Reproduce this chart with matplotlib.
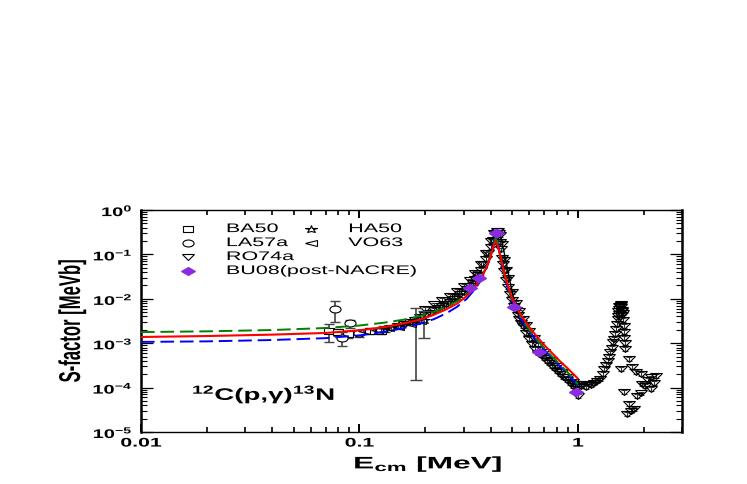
import numpy as np
import matplotlib
matplotlib.use('Agg')
import matplotlib.pyplot as plt
from matplotlib.markers import MarkerStyle
from matplotlib.transforms import Affine2D
from matplotlib.patheffects import AbstractPathEffect
from matplotlib.ticker import NullFormatter

plt.rcParams['font.family'] = ['Liberation Sans', 'DejaVu Sans']
plt.rcParams['mathtext.fontset'] = 'custom'
plt.rcParams['mathtext.rm'] = 'Liberation Sans'
plt.rcParams['mathtext.bf'] = 'Liberation Sans:bold'
plt.rcParams['mathtext.it'] = 'Liberation Sans:italic'

# ---- model curves (E_cm [MeV], S [MeV b]) ----
red_e = [0.01, 0.02, 0.04, 0.07, 0.1, 0.13, 0.16, 0.19, 0.22, 0.25, 0.28, 0.31, 0.34, 0.36,
         0.38, 0.39, 0.40, 0.41, 0.42, 0.43, 0.44, 0.45, 0.46, 0.48, 0.50, 0.53, 0.56, 0.60,
         0.65, 0.70, 0.76, 0.83, 0.90, 1.0]
red_s = [1.38e-3, 1.45e-3, 1.56e-3, 1.7e-3, 1.95e-3, 2.3e-3, 2.8e-3, 3.4e-3, 4.4e-3, 5.8e-3,
         7.8e-3, 1.15e-2, 1.9e-2, 2.8e-2, 4.8e-2, 6.6e-2, 9.5e-2, 0.145, 0.195, 0.16, 0.1,
         6.2e-2, 4.0e-2, 1.9e-2, 1.05e-2, 5.8e-3, 3.7e-3, 2.3e-3, 1.4e-3, 9.2e-4, 6.1e-4,
         3.9e-4, 2.7e-4, 1.6e-4]

blue_e = red_e
blue_s = [1.07e-3, 1.1e-3, 1.18e-3, 1.3e-3, 1.5e-3, 1.8e-3, 2.2e-3, 2.75e-3, 3.5e-3, 4.7e-3,
          6.6e-3, 1.0e-2, 1.7e-2, 2.6e-2, 4.6e-2, 6.6e-2, 0.1, 0.16, 0.25, 0.2, 0.1, 5.5e-2,
          3.4e-2, 1.6e-2, 8.8e-3, 4.8e-3, 3.0e-3, 1.85e-3, 1.1e-3, 7.2e-4, 4.7e-4, 3.0e-4,
          2.0e-4, 1.15e-4]

green_e = red_e
green_s = [1.78e-3, 1.85e-3, 1.98e-3, 2.2e-3, 2.5e-3, 2.9e-3, 3.4e-3, 4.1e-3, 5.1e-3, 6.6e-3,
           8.8e-3, 1.25e-2, 2.0e-2, 2.9e-2, 5.0e-2, 7.0e-2, 0.105, 0.16, 0.23, 0.19, 0.1,
           5.7e-2, 3.6e-2, 1.7e-2, 9.5e-3, 5.2e-3, 3.3e-3, 2.0e-3, 1.2e-3, 7.9e-4, 5.1e-4,
           3.3e-4, 2.2e-4, 1.2e-4]

black_e = [0.40, 0.41, 0.42, 0.43, 0.44, 0.447, 0.455, 0.467, 0.48, 0.49, 0.505, 0.517, 0.535]
black_s = [0.19, 0.25, 0.31, 0.33, 0.29, 0.22, 0.14, 7.9e-2, 3.9e-2, 2.4e-2, 1.2e-2, 7.0e-3, 4.2e-3]

# ---- data sets ----
ba50_e = [0.0722, 0.080, 0.089, 0.112, 0.125]
ba50_s = [1.88e-3, 1.78e-3, 1.6e-3, 1.9e-3, 1.9e-3]
ba50_err = [0.83e-3, 0.35e-3, 0.3e-3, 0.25e-3, 0.25e-3]

la57_e = [0.0776, 0.0834, 0.091, 0.10]
la57_s = [5.9e-3, 1.3e-3, 2.8e-3, 1.7e-3]
la57_err = [2.9e-3, 0.45e-3, 0.6e-3, 0.3e-3]

ha50_e = [0.13, 0.15, 0.181, 0.197]
ha50_s = [2.1e-3, 2.4e-3, 3.2e-3, 3.3e-3]
ha50_err = [0.3e-3, 0.3e-3, 3.05e-3, 2.0e-3]

vo63_e = [0.105, 0.12, 0.135, 0.15, 0.17, 0.19]
vo63_s = [1.9e-3, 2.0e-3, 2.15e-3, 2.35e-3, 2.7e-3, 3.1e-3]

ro74_e = [
    # rising side of the 0.42 MeV resonance
    0.12, 0.13, 0.14, 0.15, 0.16, 0.17, 0.18, 0.19, 0.20, 0.21, 0.22, 0.23, 0.24, 0.25,
    0.26, 0.27, 0.28, 0.29, 0.30, 0.31, 0.32, 0.33, 0.34, 0.35, 0.36, 0.37, 0.38, 0.39,
    0.40, 0.41, 0.42, 0.425, 0.43,
    0.20, 0.22, 0.24, 0.26, 0.28, 0.30, 0.32, 0.34, 0.36, 0.38, 0.40, 0.415,
    # falling side
    0.435, 0.44, 0.445, 0.45, 0.455, 0.46, 0.47, 0.48, 0.49, 0.50, 0.51, 0.52, 0.53, 0.54,
    0.55, 0.56, 0.58, 0.60, 0.62, 0.64, 0.66, 0.68, 0.70, 0.72, 0.74, 0.76, 0.78, 0.80,
    0.83, 0.86, 0.89, 0.92, 0.95, 0.98, 1.0,
    0.44, 0.45, 0.46, 0.47, 0.48, 0.50, 0.52, 0.54, 0.56, 0.58, 0.60, 0.63, 0.66, 0.70,
    0.75, 0.80, 0.85, 0.90, 0.95, 0.99,
    # plateau and the 1.56 MeV resonance
    1.03, 1.06, 1.09, 1.12, 1.15, 1.19, 1.23, 1.27, 1.30, 1.32, 1.35, 1.37, 1.39, 1.41,
    1.43, 1.45, 1.46, 1.48, 1.50, 1.51, 1.53, 1.54, 1.55, 1.56, 1.57, 1.58, 1.59, 1.60,
    1.61, 1.62, 1.62, 1.63, 1.64, 1.65, 1.72, 1.77, 1.94, 2.04, 2.16, 2.28, 2.16, 1.94,
    1.63, 1.87, 1.72, 1.75, 1.68, 1.81, 1.57, 2.23, 1.97, 2.10, 1.85,
    1.52, 1.55, 1.58, 1.60, 1.53, 1.61]
ro74_s = [
    1.9e-3, 2.0e-3, 2.2e-3, 2.4e-3, 2.7e-3, 3.0e-3, 3.4e-3, 3.9e-3, 4.4e-3, 4.9e-3, 5.5e-3,
    6.2e-3, 6.9e-3, 7.7e-3, 8.6e-3, 9.7e-3, 1.1e-2, 1.25e-2, 1.45e-2, 1.65e-2, 1.9e-2,
    2.3e-2, 2.8e-2, 3.5e-2, 4.5e-2, 6.0e-2, 8.0e-2, 0.11, 0.15, 0.21, 0.29, 0.33, 0.33,
    6.0e-3, 7.5e-3, 9.3e-3, 1.18e-2, 1.5e-2, 1.95e-2, 2.6e-2, 3.8e-2, 6.0e-2, 0.105, 0.2, 0.3,
    0.30, 0.19, 0.13, 8.5e-2, 6.0e-2, 4.2e-2, 2.7e-2, 1.8e-2, 1.3e-2, 9.5e-3, 7.0e-3, 5.5e-3,
    4.4e-3, 3.5e-3, 2.9e-3, 2.4e-3, 1.7e-3, 1.25e-3, 9.5e-4, 7.5e-4, 6.1e-4, 5.3e-4, 4.6e-4,
    4.0e-4, 3.5e-4, 3.1e-4, 2.7e-4, 2.4e-4, 2.0e-4, 1.7e-4, 1.45e-4, 1.25e-4, 1.1e-4,
    9.5e-5, 6.5e-5,
    0.28, 0.17, 7.5e-2, 4.5e-2, 2.9e-2, 1.4e-2, 8.0e-3, 5.2e-3, 3.6e-3, 2.6e-3, 1.9e-3,
    1.3e-3, 9.2e-4, 6.2e-4, 4.2e-4, 3.0e-4, 2.2e-4, 1.7e-4, 1.35e-4, 1.2e-4,
    1.1e-4, 1.2e-4, 1.05e-4, 1.2e-4, 1.15e-4, 1.25e-4, 1.4e-4, 1.6e-4, 2.0e-4, 2.6e-4,
    3.3e-4, 4.0e-4, 5.0e-4, 6.2e-4, 8.0e-4, 1.05e-3, 1.25e-3, 1.6e-3, 2.1e-3, 2.7e-3,
    3.5e-3, 4.5e-3, 5.9e-3, 6.8e-3, 7.6e-3, 6.5e-3, 5.2e-3, 4.4e-3, 3.3e-3, 2.5e-3, 1.8e-3,
    1.3e-3, 1.0e-3, 7.4e-4, 4.4e-4, 2.9e-4, 2.0e-4, 1.1e-4, 1.7e-4, 1.8e-4, 9.4e-5, 7.4e-5,
    7.9e-5, 6.6e-5, 4.3e-5, 3.0e-5, 2.6e-5, 3.3e-5, 2.6e-4, 1.3e-4, 1.2e-4, 1.5e-4, 2.3e-4,
    4.0e-3, 7.0e-3, 7.4e-3, 5.6e-3, 5.2e-3, 4.8e-3]
ro74_rel_err = 0.1

bu08_e = [0.321, 0.352, 0.42, 0.428, 0.51, 0.664, 0.979]
bu08_s = [1.75e-2, 3.0e-2, 0.30, 0.31, 6.6e-3, 6.2e-4, 7.8e-5]

xtick_vals = [0.01, 0.1, 1]
xtick_labels = ['0.01', '0.1', '1']
ytick_vals = [1e-5, 1e-4, 1e-3, 1e-2, 1e-1, 1e0]
ytick_labels = [r'$\mathbf{10^{-5}}$', r'$\mathbf{10^{-4}}$', r'$\mathbf{10^{-3}}$',
                r'$\mathbf{10^{-2}}$', r'$\mathbf{10^{-1}}$', r'$\mathbf{10^{0}}$']


class Widen(AbstractPathEffect):
    # the original picture is stretched sideways; widen glyphs the same way
    def __init__(self, sx=1.7, anchor='center'):
        super().__init__()
        self.sx = sx
        self.anchor = anchor

    def draw_path(self, renderer, gc, tpath, affine, rgbFace=None):
        v = affine.transform(tpath.vertices)
        if len(v) == 0:
            return
        if self.anchor == 'left':
            x0 = v[:, 0].min()
        elif self.anchor == 'right':
            x0 = v[:, 0].max()
        else:
            x0 = 0.5 * (v[:, 0].min() + v[:, 0].max())
        t = affine + Affine2D().translate(-x0, 0).scale(self.sx, 1.0).translate(x0, 0)
        renderer.draw_path(gc, tpath, t, rgbFace)


def wide(m, sx, sy=1.0):
    return MarkerStyle(m, transform=Affine2D().scale(sx, sy))


fig = plt.figure(figsize=(7.47, 4.85), dpi=100)
ax = fig.add_axes([141 / 747, 1 - 433 / 485, (682 - 141) / 747, (433 - 211) / 485])
ax.set_xscale('log')
ax.set_yscale('log')

ecol = '#444444'
ax.errorbar(ro74_e, ro74_s, yerr=ro74_rel_err * np.array(ro74_s), fmt='none', ecolor='#333333',
            elinewidth=0.8, capsize=2.5, capthick=0.8, zorder=2)
ax.plot(ro74_e, ro74_s, ls='none', marker=wide('v', 1.85), ms=5.0, mfc='none', mec='k', mew=0.8, zorder=2)

ax.errorbar(ba50_e, ba50_s, yerr=ba50_err, fmt='none', ecolor=ecol, elinewidth=1.2, capsize=3.5, zorder=2)
ax.plot(ba50_e, ba50_s, ls='none', marker=wide('s', 1.5), ms=4.6, mfc='white', mec='k', mew=0.8, zorder=2)

ax.errorbar(la57_e, la57_s, yerr=la57_err, fmt='none', ecolor=ecol, elinewidth=1.2, capsize=3.5, zorder=2)
ax.plot(la57_e, la57_s, ls='none', marker=wide('o', 1.6), ms=5.0, mfc='white', mec='k', mew=0.8, zorder=2)

ax.errorbar(ha50_e, ha50_s, yerr=ha50_err, fmt='none', ecolor=ecol, elinewidth=1.2, capsize=4.5, zorder=2)
ax.plot(ha50_e, ha50_s, ls='none', marker=wide('*', 1.5), ms=6.0, mfc='none', mec='k', mew=0.7, zorder=2)

ax.plot(vo63_e, vo63_s, ls='none', marker=wide('<', 1.6), ms=5.0, mfc='none', mec='k', mew=0.8, zorder=2)

ax.plot(blue_e, blue_s, color='#0000ff', lw=1.4, dashes=(7, 3), zorder=3)
ax.plot(green_e, green_s, color='#008000', lw=1.4, dashes=(7, 3), zorder=3)
ax.plot(black_e, black_s, color='k', lw=1.0, zorder=3)
ax.plot(red_e, red_s, color='#ff0000', lw=1.5, zorder=3.2)

purple = '#8a2be2'
ax.plot(bu08_e, bu08_s, ls='none', marker=wide('D', 1.6), ms=4.5, mfc=purple, mec=purple, zorder=4)

ax.set_xlim(0.01, 3.0)
ax.set_ylim(1e-5, 1.0)

# hand-made legend, two columns as in the original
leg_rows = [0.914, 0.851, 0.788, 0.725]
col1 = [('s', 1.5, 4.6, 'white', 'k', 'BA50'), ('o', 1.6, 5.0, 'white', 'k', 'LA57a'),
        ('v', 1.85, 5.0, 'none', 'k', 'RO74a'), ('D', 1.6, 4.5, purple, purple, 'BU08(post-NACRE)')]
col2 = [('*', 1.5, 6.0, 'none', 'k', 'HA50'), ('<', 1.6, 5.0, 'none', 'k', 'VO63')]
for cx, tx, entries in [(0.087, 0.157, col1), (0.314, 0.383, col2)]:
    for yy, (m, sx, ms, fc, ec, lab) in zip(leg_rows, entries):
        ax.plot([cx], [yy], transform=ax.transAxes, ls='none', marker=wide(m, sx), ms=ms,
                mfc=fc, mec=ec, mew=0.8, clip_on=False)
        ax.text(tx, yy, lab, transform=ax.transAxes, fontsize=9, ha='left', va='center',
                path_effects=[Widen(1.72, 'left')])

ax.text(0.094, 0.171, r'$^{\mathbf{12}}$C(p,γ)$^{\mathbf{13}}$N', transform=ax.transAxes,
        fontsize=12, fontweight='bold', ha='left', va='center', path_effects=[Widen(1.66, 'left')])

ax.set_xticks(xtick_vals)
ax.set_xticklabels(xtick_labels, fontsize=9, fontweight='bold')
ax.set_yticks(ytick_vals)
ax.set_yticklabels(ytick_labels, fontsize=9)
ax.xaxis.set_minor_formatter(NullFormatter())
ax.yaxis.set_minor_formatter(NullFormatter())

ax.tick_params(which='both', direction='in', top=True, right=True)
ax.tick_params(axis='x', which='major', length=6, width=1.4, pad=4)
ax.tick_params(axis='x', which='minor', length=3.5, width=1.2)
ax.tick_params(axis='y', which='major', length=8.5, width=0.9, pad=6)
ax.tick_params(axis='y', which='minor', length=4.5, width=0.8)
for side in ['left', 'right']:
    ax.spines[side].set_linewidth(1.8)
for side in ['top', 'bottom']:
    ax.spines[side].set_linewidth(1.0)

xl = ax.set_xlabel(r'E$_{\mathbf{cm}}$ [MeV]', fontsize=12, fontweight='bold')
ax.xaxis.set_label_coords(0.530, -0.144)
xl.set_va('center')
xl.set_path_effects([Widen(1.9)])
yl = ax.set_ylabel('S-factor [MeVb]', fontsize=12, fontweight='bold')
ax.yaxis.set_label_coords(-0.1275, 0.5)
yl.set_va('center')
yl.set_path_effects([Widen(1.8)])

fig.canvas.draw()
for lbl in ax.get_xticklabels():
    lbl.set_path_effects([Widen(1.7)])
for lbl in ax.get_yticklabels():
    lbl.set_path_effects([Widen(1.6, 'right')])

fig.savefig('out.png', dpi=100)
